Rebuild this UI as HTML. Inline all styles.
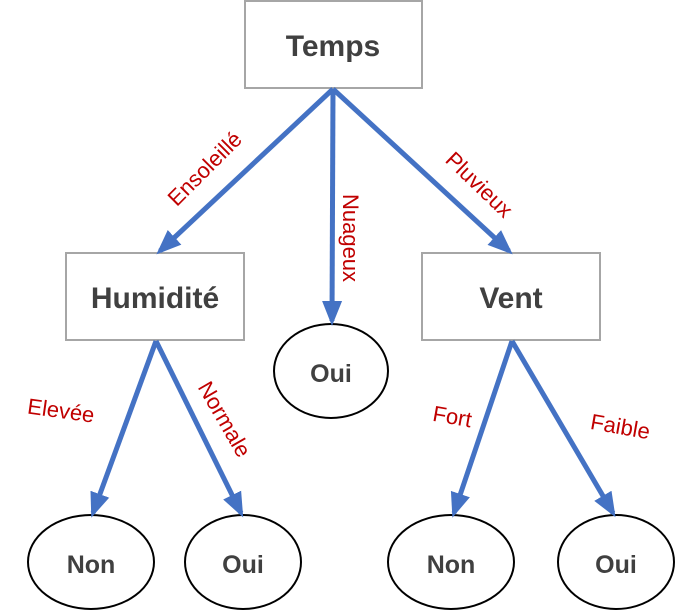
<!DOCTYPE html>
<html><head><meta charset="utf-8"><style>
html,body{margin:0;padding:0;background:#fff;width:679px;height:612px;overflow:hidden}
svg text{font-family:"Liberation Sans",sans-serif}
.n{font-weight:bold;fill:#404040;text-anchor:middle}
.l{fill:#C00000;text-anchor:middle}
</style></head><body>
<svg width="679" height="612" viewBox="0 0 679 612" xmlns="http://www.w3.org/2000/svg">
<defs><marker id="a" markerWidth="5" markerHeight="5" refX="4" refY="2.5" orient="auto" markerUnits="strokeWidth"><path d="M0,0.5 L5,2.5 L0,4.5z" fill="#4472C4"/></marker></defs>
<g stroke="#A6A6A6" stroke-width="2" fill="#fff">
<rect x="245" y="1" width="177" height="87"/>
<rect x="66" y="253" width="178" height="87"/>
<rect x="422" y="253" width="178" height="87"/>
</g>
<g stroke="#000" stroke-width="2" fill="#fff">
<ellipse cx="331" cy="371" rx="57" ry="47"/>
<ellipse cx="91" cy="562" rx="63" ry="47"/>
<ellipse cx="243" cy="562" rx="58" ry="47"/>
<ellipse cx="451" cy="562" rx="63" ry="47"/>
<ellipse cx="616" cy="562" rx="58" ry="47"/>
</g>
<g stroke="#4472C4" stroke-width="5" fill="none" marker-end="url(#a)">
<line x1="333" y1="89" x2="160" y2="251"/>
<line x1="333" y1="89" x2="332" y2="321"/>
<line x1="333" y1="89" x2="509" y2="251"/>
<line x1="156" y1="341" x2="93" y2="513"/>
<line x1="156" y1="341" x2="241" y2="513"/>
<line x1="512" y1="341" x2="454" y2="513"/>
<line x1="512" y1="341" x2="613" y2="513"/>
</g>
<text class="n" x="333" y="56" font-size="30">Temps</text>
<text class="n" x="155" y="308" font-size="30">Humidité</text>
<text class="n" x="511" y="308" font-size="30">Vent</text>
<text class="n" x="331" y="382" font-size="25">Oui</text>
<text class="n" x="91" y="573" font-size="25">Non</text>
<text class="n" x="243" y="573" font-size="25">Oui</text>
<text class="n" x="451" y="573" font-size="25">Non</text>
<text class="n" x="616" y="573" font-size="25">Oui</text>
<text class="l" font-size="22" transform="translate(210,174) rotate(-45)">Ensoleillé</text>
<text class="l" font-size="22" transform="translate(343,238) rotate(90)">Nuageux</text>
<text class="l" font-size="22" transform="translate(474,190) rotate(44)">Pluvieux</text>
<text class="l" font-size="22" transform="translate(60,418) rotate(8)">Elevée</text>
<text class="l" font-size="22" transform="translate(218,423) rotate(60)">Normale</text>
<text class="l" font-size="22" transform="translate(451,424) rotate(10)">Fort</text>
<text class="l" font-size="22" transform="translate(619,434) rotate(10)">Faible</text>
</svg>
</body></html>
